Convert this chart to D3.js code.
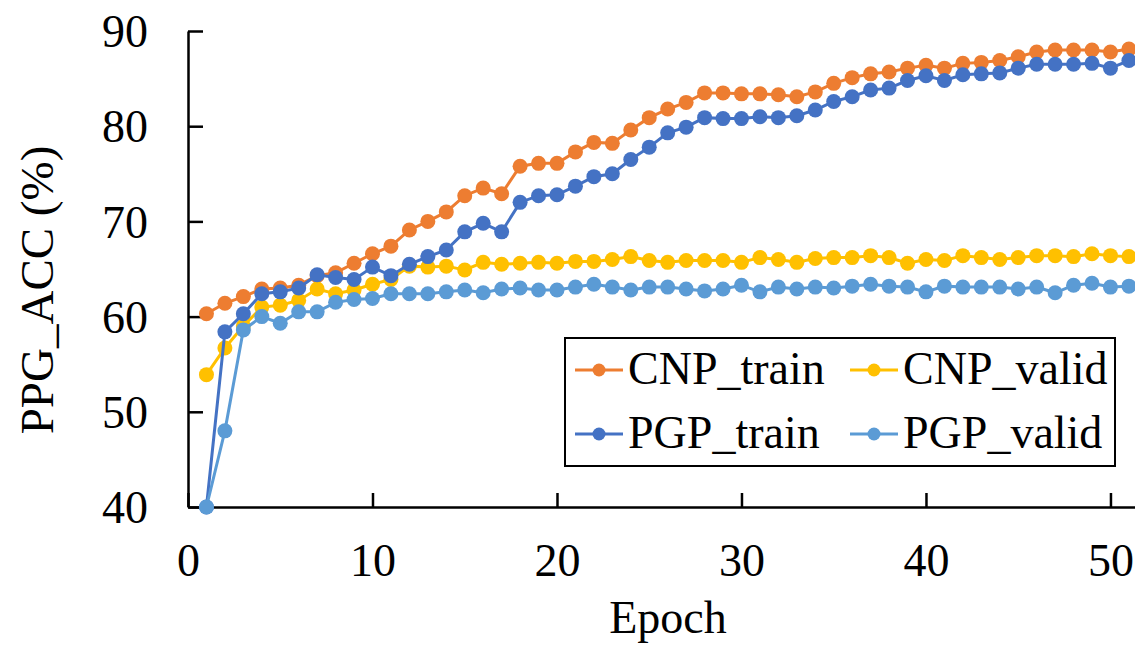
<!DOCTYPE html>
<html>
<head>
<meta charset="utf-8">
<script src="https://cdn.jsdelivr.net/npm/d3@7"></script>
<style>
  body { margin: 0; background: #fff; }
  text { font-family: "Liberation Serif", "Times New Roman", serif; fill: #000; }
</style>
</head>
<body>
<div id="chart-area"></div>
<script>
// data
var epochs = d3.range(1, 52);

var cnpTrain = [60.3, 61.4, 62.1, 62.9, 63.0, 63.3, 64.3, 64.6, 65.6, 66.6,
  67.4, 69.1, 70.0, 71.0, 72.7, 73.5, 72.9, 75.8, 76.1, 76.1,
  77.3, 78.3, 78.2, 79.6, 80.9, 81.8, 82.5, 83.5, 83.5, 83.4,
  83.4, 83.3, 83.1, 83.6, 84.5, 85.1, 85.5, 85.7, 86.1, 86.4,
  86.1, 86.6, 86.7, 86.9, 87.3, 87.8, 88.0, 88.0, 88.0, 87.8, 88.1];

var cnpValid = [53.9, 56.7, 59.0, 61.0, 61.2, 61.7, 62.9, 62.4, 62.8, 63.4,
  63.9, 65.3, 65.2, 65.3, 64.9, 65.7, 65.5, 65.6, 65.7, 65.6,
  65.8, 65.8, 66.0, 66.3, 65.9, 65.7, 65.9, 65.9, 65.9, 65.7,
  66.2, 66.0, 65.7, 66.1, 66.2, 66.2, 66.4, 66.2, 65.6, 66.0,
  65.9, 66.4, 66.2, 66.0, 66.2, 66.4, 66.4, 66.3, 66.6, 66.4, 66.3];

var pgpTrain = [40.0, 58.4, 60.3, 62.4, 62.6, 63.0, 64.4, 64.1, 63.9, 65.2,
  64.3, 65.5, 66.3, 67.0, 68.9, 69.8, 68.9, 72.0, 72.7, 72.8,
  73.7, 74.7, 75.0, 76.5, 77.8, 79.3, 79.9, 80.9, 80.8, 80.8,
  81.0, 80.9, 81.1, 81.7, 82.6, 83.1, 83.8, 84.0, 84.8, 85.3,
  84.8, 85.4, 85.5, 85.6, 86.1, 86.5, 86.5, 86.5, 86.6, 86.1, 86.9];

var pgpValid = [40.0, 48.0, 58.6, 60.0, 59.3, 60.5, 60.5, 61.5, 61.8, 61.9,
  62.4, 62.4, 62.4, 62.6, 62.8, 62.5, 62.9, 63.0, 62.8, 62.8,
  63.1, 63.4, 63.1, 62.8, 63.1, 63.1, 62.9, 62.7, 62.9, 63.3,
  62.6, 63.1, 62.9, 63.1, 63.0, 63.2, 63.4, 63.2, 63.1, 62.6,
  63.2, 63.1, 63.1, 63.1, 62.9, 63.1, 62.5, 63.3, 63.5, 63.1, 63.2];

var seriesNames = ["CNP_train", "CNP_valid", "PGP_train", "PGP_valid"];
var seriesValues = [cnpTrain, cnpValid, pgpTrain, pgpValid];
var seriesColors = ["#ED7D31", "#FFC000", "#4472C4", "#5B9BD5"];

var xTicks = [0, 10, 20, 30, 40, 50];
var yTicks = [40, 50, 60, 70, 80, 90];

var width = 1135, height = 645;

var svg = d3.select("#chart-area").append("svg")
    .attr("width", width)
    .attr("height", height);

// Scales
var x = d3.scaleLinear().domain([0, 51.33]).range([188, 1135]);
var y = d3.scaleLinear().domain([40, 90]).range([507, 31]);

// Axes (ticks point inward)
var xAxis = d3.axisBottom(x).tickValues(xTicks).tickSizeInner(-14).tickSizeOuter(0).tickPadding(36);
var yAxis = d3.axisLeft(y).tickValues(yTicks).tickSizeInner(-15).tickSizeOuter(0).tickPadding(40);

var xAxisGroup = svg.append("g")
    .attr("transform", "translate(0," + y(40) + ")")
    .call(xAxis);

var yAxisGroup = svg.append("g")
    .attr("transform", "translate(" + x(0) + ",0)")
    .call(yAxis);

[xAxisGroup, yAxisGroup].forEach(function(g) {
  g.select(".domain").attr("stroke", "#000").attr("stroke-width", 2.5);
  g.selectAll(".tick line").attr("stroke", "#000").attr("stroke-width", 2.5);
  g.selectAll(".tick text")
    .style("font-family", "'Liberation Serif', 'Times New Roman', serif")
    .style("font-size", "46px")
    .attr("fill", "#000");
});
yAxisGroup.selectAll(".tick text").attr("dy", "0.34em");

// Lines + markers
var line = d3.line()
    .x(function(d, i) { return x(epochs[i]); })
    .y(function(d) { return y(d); });

seriesValues.forEach(function(vals, s) {
  var g = svg.append("g");
  g.append("path")
    .datum(vals)
    .attr("fill", "none")
    .attr("stroke", seriesColors[s])
    .attr("stroke-width", 3)
    .attr("d", line);
  g.selectAll("circle")
    .data(vals)
    .enter()
    .append("circle")
    .attr("cx", function(d, i) { return x(epochs[i]); })
    .attr("cy", function(d) { return y(d); })
    .attr("r", 7.5)
    .attr("fill", seriesColors[s]);
});

// Axis titles
svg.append("text")
    .attr("x", 668)
    .attr("y", 633)
    .attr("text-anchor", "middle")
    .style("font-size", "46px")
    .text("Epoch");

svg.append("text")
    .attr("transform", "translate(53,290) rotate(-90)")
    .attr("text-anchor", "middle")
    .style("font-size", "47px")
    .text("PPG_ACC (%)");

// Legend
var legend = svg.append("g");
legend.append("rect")
    .attr("x", 565).attr("y", 338)
    .attr("width", 550).attr("height", 128)
    .attr("fill", "#fff")
    .attr("stroke", "#000")
    .attr("stroke-width", 2);

var legendPos = [[575, 370], [850, 370], [575, 434], [850, 434]];

seriesNames.forEach(function(name, s) {
  var p = legendPos[s];
  legend.append("line")
    .attr("x1", p[0]).attr("x2", p[0] + 48)
    .attr("y1", p[1]).attr("y2", p[1])
    .attr("stroke", seriesColors[s])
    .attr("stroke-width", 3);
  legend.append("circle")
    .attr("cx", p[0] + 24).attr("cy", p[1])
    .attr("r", 6.5)
    .attr("fill", seriesColors[s]);
  legend.append("text")
    .attr("x", p[0] + 53)
    .attr("y", p[1] + 14)
    .style("font-size", "46px")
    .text(name);
});
</script>
</body>
</html>
